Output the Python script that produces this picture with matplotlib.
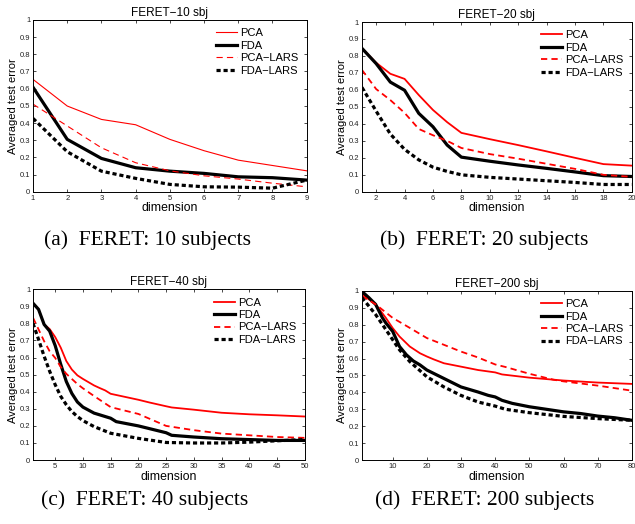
import matplotlib
matplotlib.use('Agg')
import matplotlib.pyplot as plt

# ---- data (dimension, averaged test error) ----
# FERET-10
a_dim = [1, 2, 3, 4, 5, 6, 7, 8, 9]
a_pca = [0.654, 0.499, 0.421, 0.39, 0.305, 0.239, 0.184, 0.153, 0.122]
a_fda = [0.608, 0.305, 0.194, 0.14, 0.12, 0.107, 0.087, 0.082, 0.068]
a_pca_lars = [0.51, 0.383, 0.256, 0.169, 0.122, 0.093, 0.074, 0.05, 0.029]
a_fda_lars = [0.427, 0.233, 0.12, 0.078, 0.043, 0.029, 0.027, 0.021, 0.068]

# FERET-20
b_dim = [1, 2, 3, 4, 5, 6, 7, 8, 10, 12, 14, 16, 18, 20]
b_pca = [0.845, 0.76, 0.695, 0.665, 0.57, 0.482, 0.41, 0.347, 0.31, 0.275, 0.238, 0.2, 0.163, 0.154]
b_fda = [0.845, 0.755, 0.646, 0.598, 0.462, 0.383, 0.275, 0.204, 0.18, 0.158, 0.138, 0.117, 0.095, 0.09]
b_pca_lars = [0.718, 0.605, 0.54, 0.465, 0.37, 0.333, 0.3, 0.258, 0.222, 0.195, 0.165, 0.135, 0.1, 0.088]
b_fda_lars = [0.615, 0.475, 0.34, 0.25, 0.188, 0.145, 0.12, 0.1, 0.085, 0.075, 0.065, 0.055, 0.043, 0.043]

# FERET-40
c_pca_dim = [1, 2, 3, 4, 5, 6, 7, 8, 9, 10, 12, 13, 14, 15, 20, 22, 25, 26, 30, 35, 40, 45, 50]
c_pca = [0.918, 0.882, 0.794, 0.767, 0.72, 0.658, 0.58, 0.53, 0.496, 0.475, 0.437, 0.422, 0.408, 0.388,
         0.353, 0.337, 0.315, 0.308, 0.295, 0.277, 0.268, 0.262, 0.255]
c_fda_dim = [1, 2, 3, 4, 5, 6, 7, 8, 9, 10, 12, 14, 15, 16, 20, 25, 26, 30, 35, 40, 45, 50]
c_fda = [0.918, 0.882, 0.794, 0.755, 0.67, 0.56, 0.46, 0.39, 0.34, 0.31, 0.275, 0.255, 0.245, 0.225,
         0.2, 0.16, 0.145, 0.135, 0.125, 0.12, 0.115, 0.115]
c_lars_dim = [1, 2, 3, 4, 5, 6, 7, 8, 9, 10, 12, 15, 20, 25, 30, 35, 40, 45, 50]
c_pca_lars = [0.833, 0.765, 0.696, 0.637, 0.598, 0.545, 0.505, 0.475, 0.445, 0.42, 0.375, 0.31, 0.27,
              0.2, 0.175, 0.155, 0.145, 0.135, 0.13]
c_fda_lars = [0.8, 0.706, 0.608, 0.52, 0.441, 0.373, 0.324, 0.284, 0.255, 0.231, 0.196, 0.157, 0.127,
              0.103, 0.1, 0.1, 0.105, 0.113, 0.12]

# FERET-200
d_pca_dim = [1, 3, 5, 8, 10, 12, 15, 18, 20, 22, 25, 30, 35, 40, 42, 50, 60, 70, 80]
d_pca = [0.984, 0.95, 0.92, 0.84, 0.78, 0.73, 0.671, 0.631, 0.612, 0.595, 0.572, 0.552, 0.532, 0.518,
         0.506, 0.487, 0.47, 0.458, 0.45]
d_fda_dim = [1, 3, 5, 7, 8, 10, 12, 14, 16, 18, 20, 22, 25, 28, 30, 35, 38, 40, 42, 45, 50, 55, 60, 65, 70, 75, 80]
d_fda = [0.996, 0.96, 0.92, 0.84, 0.81, 0.76, 0.671, 0.622, 0.586, 0.562, 0.532, 0.512, 0.482, 0.452,
         0.432, 0.402, 0.382, 0.373, 0.353, 0.335, 0.315, 0.3, 0.285, 0.275, 0.26, 0.25, 0.235]
d_pca_lars_dim = [1, 5, 10, 15, 20, 25, 30, 35, 40, 43, 50, 57, 60, 70, 80]
d_pca_lars = [0.97, 0.92, 0.84, 0.781, 0.721, 0.681, 0.641, 0.606, 0.565, 0.55, 0.51, 0.475, 0.465, 0.44, 0.41]
d_fda_lars_dim = [1, 3, 5, 8, 10, 12, 15, 20, 25, 30, 35, 40, 43, 50, 60, 70, 80]
d_fda_lars = [0.96, 0.91, 0.86, 0.771, 0.711, 0.651, 0.582, 0.492, 0.432, 0.382, 0.343, 0.319, 0.3,
              0.28, 0.258, 0.245, 0.235]

titles = ['FERET\u221210 sbj', 'FERET\u221220 sbj', 'FERET\u221240 sbj', 'FERET\u2212200 sbj']
captions = ['(a)  FERET: 10 subjects', '(b)  FERET: 20 subjects',
            '(c)  FERET: 40 subjects', '(d)  FERET: 200 subjects']
labels = ['PCA', 'FDA', 'PCA\u2212LARS', 'FDA\u2212LARS']
xticks = [range(1, 10), range(2, 21, 2), range(5, 51, 5), range(10, 81, 10)]
xlims = [(1, 9), (1, 20), (1, 50), (1, 80)]

plt.rcParams['font.family'] = ['Liberation Sans', 'DejaVu Sans']

fig = plt.figure(figsize=(6.35, 5.24), dpi=100)

# axes boxes in figure fractions
boxes = [[0.052, 0.634, 0.431, 0.328],
         [0.570, 0.634, 0.425, 0.324],
         [0.052, 0.122, 0.428, 0.326],
         [0.570, 0.122, 0.425, 0.323]]

series = [
    [(a_dim, a_pca), (a_dim, a_fda), (a_dim, a_pca_lars), (a_dim, a_fda_lars)],
    [(b_dim, b_pca), (b_dim, b_fda), (b_dim, b_pca_lars), (b_dim, b_fda_lars)],
    [(c_pca_dim, c_pca), (c_fda_dim, c_fda), (c_lars_dim, c_pca_lars), (c_lars_dim, c_fda_lars)],
    [(d_pca_dim, d_pca), (d_fda_dim, d_fda), (d_pca_lars_dim, d_pca_lars), (d_fda_lars_dim, d_fda_lars)],
]

# caption centres (pixels from top-left)
cap_px = [(147, 240), (484, 240), (145, 500), (485, 500)]

for i in range(4):
    ax = fig.add_axes(boxes[i])
    thin = 0.8 if i == 0 else 1.3
    s = series[i]
    ax.plot(s[0][0], s[0][1], color='red', lw=thin, label=labels[0])
    ax.plot(s[1][0], s[1][1], color='black', lw=2.3, label=labels[1])
    ax.plot(s[2][0], s[2][1], color='red', lw=thin, linestyle=(0, (4.5 / thin, 3.0 / thin)), label=labels[2])
    ax.plot(s[3][0], s[3][1], color='black', lw=2.3, linestyle=(0, (1.3, 0.9)), label=labels[3])

    ax.set_xlim(*xlims[i])
    ax.set_ylim(0, 1)
    ax.set_xticks(list(xticks[i]))
    ax.set_yticks([k / 10 for k in range(11)])
    ax.set_yticklabels(['%g' % (k / 10) for k in range(11)])
    ax.tick_params(direction='in', top=True, right=True, length=2.5, width=0.5,
                   labelsize=5.5, pad=2, labelcolor='#222222')
    for sp in ax.spines.values():
        sp.set_linewidth(0.7)

    ax.set_title(titles[i], fontsize=8.5, pad=3)
    ax.set_xlabel('dimension', fontsize=8.8, labelpad=0.5)
    ax.set_ylabel('Averaged test error', fontsize=8, labelpad=1)
    ax.legend(loc='upper right', frameon=False, fontsize=8, handlelength=1.9,
              handletextpad=0.25, labelspacing=0.22, borderaxespad=0.45,
              borderpad=0.3)

    fig.text(cap_px[i][0] / 635, 1 - cap_px[i][1] / 524, captions[i], ha='center', va='center',
             fontsize=15.5, family='Liberation Serif')

fig.savefig('out.png', dpi=100)
